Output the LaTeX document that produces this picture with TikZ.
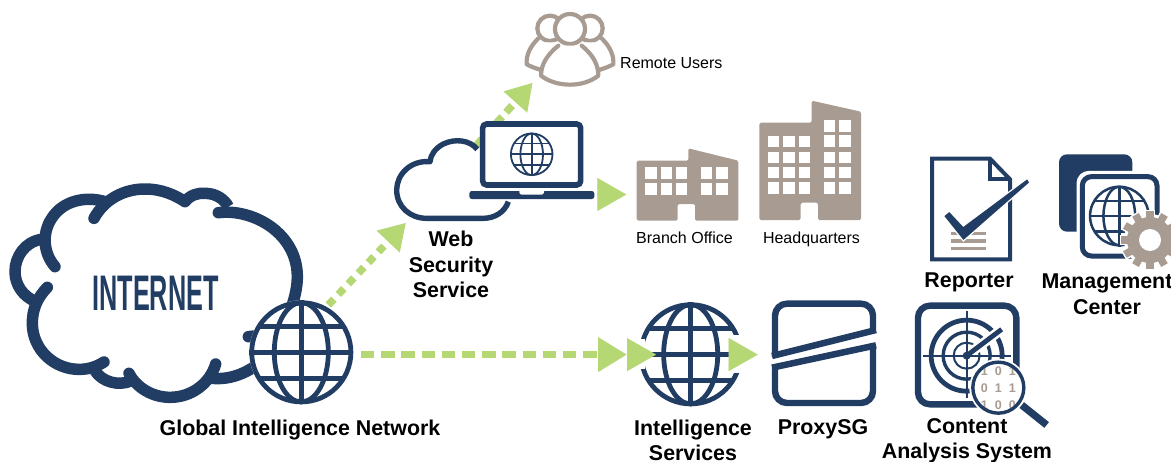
\documentclass[tikz,border=0pt]{standalone}
\usepackage{fontspec}
\setmainfont{Liberation Sans}
\usetikzlibrary{arrows.meta}
\definecolor{navy}{HTML}{223D63}
\definecolor{leaf}{HTML}{B5D774}
\definecolor{taupe}{HTML}{A89C92}
\tikzset{
  zoomone/.style={shift={(0,160)},x=0.33333pt,y=-0.33333pt},
  zoomtwo/.style={shift={(380,0)},x=0.33333pt,y=-0.33333pt},
  zoomthree/.style={shift={(600,280)},x=0.33333pt,y=-0.33333pt},
  zoomfour/.style={shift={(910,140)},x=0.33333pt,y=-0.33333pt},
  zoomusers/.style={shift={(515,5)},x=0.33333pt,y=-0.33333pt},
  zoomradar/.style={shift={(910,300)},x=0.33333pt,y=-0.33333pt},
  cloudline/.style={draw=navy,line width=11.5pt,line cap=round,line join=round},
  label/.style={font=\bfseries\fontsize{21.4}{25.5}\selectfont,align=center,text=black,inner sep=0pt},
  smalllabel/.style={font=\fontsize{16}{17}\selectfont,text=black,inner sep=0pt},
  dashlink/.style={draw=leaf,line width=7.5pt,-{Triangle[length=26pt,width=30pt,fill=leaf]}},
  tipfill/.style={draw=leaf,line width=0.1pt,-{Triangle[length=29pt,width=33pt,fill=leaf]}},
  mask/.style={fill=white,draw=none},
}
\newcommand{\globeicon}[5]{% name,x,y,R,lw
  \coordinate (#1) at (#2,#3);
  \fill[white] (#1) circle[radius=#4pt];
  \begin{scope}[draw=navy,line width=#5pt]
    \draw (#1) circle[radius=#4pt-0.5*#5pt];
    \draw (#1) ellipse[x radius=0.52*#4pt,y radius=#4pt-0.5*#5pt];
    \draw ([yshift=-#4pt]#1) -- ([yshift=#4pt]#1);
    \draw ([xshift=-#4pt]#1) -- ([xshift=#4pt]#1);
    \draw ([xshift=-0.84*#4pt,yshift=0.5*#4pt]#1) -- ([xshift=0.84*#4pt,yshift=0.5*#4pt]#1);
    \draw ([xshift=-0.84*#4pt,yshift=-0.5*#4pt]#1) -- ([xshift=0.84*#4pt,yshift=-0.5*#4pt]#1);
  \end{scope}
}
\begin{document}
\begin{tikzpicture}[x=1pt,y=-1pt]
\useasboundingbox (0,0) rectangle (1171,461);
\fill[white] (0,0) rectangle (1171,461);

% link end points
\coordinate (ginOut) at (328.3,305);
\coordinate (wssIn) at (406,222.7);
\coordinate (ginRight) at (361,354.6);
\coordinate (isIn) at (627,354.6);
\coordinate (isTip) at (656,354.6);
\coordinate (isOut) at (728.7,354.6);
\coordinate (sgTip) at (757.7,354.6);
\coordinate (wssUp) at (476.7,145);
\coordinate (usersIn) at (532.7,82.7);
\coordinate (lapOut) at (597.3,194.5);
\coordinate (branchIn) at (626.3,194.5);

% dashed connectors
\draw[dashlink,dash pattern=on 8pt off 6.6pt,dash phase=0pt] (ginOut) -- (wssIn);
\draw[dashlink,dash pattern=on 9pt off 6pt,dash phase=1pt] (wssUp) -- (usersIn);

% INTERNET cloud
\begin{scope}[zoomone]
  \draw[cloudline] (282,175) .. controls (315,115) and (375,87) .. (435,87) .. controls (485,87) and (525,105) .. (555,125);
  \draw[cloudline,line cap=butt] (555,125) .. controls (570,105) and (595,98) .. (615,100) .. controls (650,100) and (675,120) .. (685,140);
  \draw[cloudline] (655,158) .. controls (760,145) and (892,220) .. (892,350) .. controls (892,380) and (885,410) .. (875,440);
  \draw[cloudline] (165,320) .. controls (130,280) and (125,220) .. (155,175) .. controls (190,120) and (260,108) .. (315,125);
  \draw[cloudline,line cap=butt] (125,238) .. controls (75,245) and (45,290) .. (45,335) .. controls (45,375) and (70,410) .. (108,425);
  \draw[cloudline] (142,382) .. controls (110,415) and (97,450) .. (97,490) .. controls (97,570) and (165,630) .. (240,628) .. controls (265,628) and (290,620) .. (312,606);
  \draw[cloudline,line cap=butt] (285,632) .. controls (305,665) and (355,680) .. (395,662);
  \draw[cloudline] (387,640) .. controls (410,685) and (460,712) .. (510,712) .. controls (575,712) and (630,670) .. (647,612);
  \draw[cloudline,line cap=butt] (635,655) .. controls (680,660) and (730,645) .. (770,615);
  \draw[cloudline] (745,530) -- (790,525);
\end{scope}
\node[inner sep=0pt,font=\bfseries\fontsize{50}{50}\selectfont,text=navy] (internet) at (155.5,293.5) {\scalebox{0.505}[1]{INTERNET}};
\globeicon{gin}{301.3}{352.3}{52}{4.8}
\node[label,anchor=base] (ginLabel) at (300,435) {Global Intelligence Network};

\draw[dashlink,dash pattern=on 13.3pt off 6.9pt,-{Triangle[length=29pt,width=33pt,fill=leaf]}] (ginRight) -- (isIn);

% Web Security Service cloud + laptop
\begin{scope}[zoomtwo]
  \draw[navy,line width=5.4pt,line cap=butt,line join=round] (292,448) .. controls (270,420) and (225,415) .. (190,432) .. controls (165,445) and (152,465) .. (150,485) .. controls (90,480) and (50,525) .. (50,570) .. controls (50,620) and (90,655) .. (140,655) -- (310,655) .. controls (345,655) and (375,635) .. (385,605);
  \draw[navy,fill=white,line width=5.6pt,rounded corners=4pt] (308,372) rectangle (602,555);
  \fill[navy,rounded corners=2.5pt] (268,573) rectangle (643,597);
  \fill[white,rounded corners=2.5pt] (418,566) rectangle (492,584);
\end{scope}
\globeicon{lapGlobe}{531.7}{154.3}{21.7}{1.8}
\node[label] (wssLabel) at (451,264.5) {Web\\Security\\Service};
\draw[tipfill] (lapOut) -- (branchIn);

% Remote users
\begin{scope}[zoomusers,taupe,line width=4.2pt,line join=round,line cap=round]
  \draw (105,70) circle[radius=12.7pt];
  \draw (225,70) circle[radius=12.7pt];
  \fill[white] (70,112) -- (260,112) -- (250,195) -- (78,195) -- cycle;
  \draw (70,100) .. controls (45,125) and (33,150) .. (35,178) .. controls (48,185) and (62,190) .. (78,195);
  \draw (260,100) .. controls (285,125) and (297,150) .. (295,178) .. controls (282,185) and (268,190) .. (252,195);
  \draw[fill=white] (165,72) circle[radius=15pt];
  \draw[fill=white] (130,122) .. controls (95,150) and (78,180) .. (78,212) .. controls (125,248) and (205,248) .. (250,212) .. controls (250,180) and (235,150) .. (200,122);
\end{scope}
\node[smalllabel,anchor=base west] (usersLabel) at (620,68.5) {Remote Users};

% Buildings
\begin{scope}[zoomtwo]
  \fill[taupe,rounded corners=1.5pt] (770,662) -- (770,482) -- (925,482) -- (925,445) -- (1075,482) -- (1075,662) -- (945,662) -- (945,612) -- (893,612) -- (893,662) -- cycle;
  \foreach \a/\b in {795/830,842/876,888/922,963/997,1008/1043}
    \foreach \c/\d in {502/538,548/585}
      \fill[white] (\a,\c) rectangle (\b,\d);
  \fill[taupe,rounded corners=1.5pt] (1138,660) -- (1138,368) -- (1295,368) -- (1295,302) -- (1443,335) -- (1443,660) -- (1314,660) -- (1314,608) -- (1262,608) -- (1262,660) -- cycle;
  \foreach \a/\b in {1165/1197,1210/1244,1256/1290}
    \foreach \c/\d in {408/442,455/489,500/535,547/582}
      \fill[white] (\a,\c) rectangle (\b,\d);
  \foreach \a/\b in {1332/1365,1378/1412}
    \foreach \c/\d in {360/395,405/440,455/489,500/535,547/582}
      \fill[white] (\a,\c) rectangle (\b,\d);
\end{scope}
\node[smalllabel,anchor=base] (branchLabel) at (684.5,243.5) {Branch Office};
\node[smalllabel,anchor=base] (hqLabel) at (811.5,243.5) {Headquarters};

% Intelligence Services globe
\globeicon{isGlobe}{690.7}{354.3}{52}{4.8}
\begin{scope}[zoomthree]
  \fill[mask] (80,178) rectangle (135,268);
  \fill[mask] (388,165) rectangle (437,280);
\end{scope}
\draw[tipfill] (isIn) -- (isTip);
\draw[tipfill] (isOut) -- (sgTip);
\node[label] (isLabel) at (693,440.5) {Intelligence\\Services};

% ProxySG
\begin{scope}[zoomthree]
  \draw[navy,line width=6.4pt,rounded corners=12pt] (525,71) rectangle (819,369);
  \fill[mask] (510,232) -- (836,148) -- (836,198) -- (510,267) -- cycle;
  \draw[navy,line width=6.5pt] (516,228) -- (828,150);
  \draw[navy,line width=6.5pt] (516,263) -- (828,196);
\end{scope}
\node[label,anchor=base] (sgLabel) at (823,434) {ProxySG};

% Content Analysis System
\begin{scope}[zoomthree]
  \draw[navy,line width=6.4pt,rounded corners=12pt] (954,77) rectangle (1249,373);
\end{scope}
\begin{scope}[zoomradar]
  \coordinate (radar) at (170,167);
  \draw[navy,line width=2pt] (radar) circle[radius=13pt];
  \draw[navy,line width=3.4pt] (radar) circle[radius=23.5pt];
  \draw[navy,line width=4.8pt] (radar) circle[radius=35.5pt];
  \draw[white,line width=10pt] (radar) -- (283,82);
  \draw[navy,line width=1.9pt] (170,32) -- (170,295);
  \draw[navy,line width=1.9pt] (40,167) -- (303,167);
  \draw[navy,line width=4.8pt] (radar) -- (275,88);
  \fill[navy] (radar) circle[radius=4pt];
  \coordinate (lens) at (265,263);
  \draw[navy,line width=7.3pt] (335,315) -- (410,375);
  \fill[white] (lens) circle[radius=29pt];
  \begin{scope}
    \clip (lens) circle[radius=25pt];
    \foreach \n/\xx/\yy/\t in {da/223/215/1,db/265/215/0,dc/307/215/1,dd/223/266/0,de/265/266/1,df/307/266/1,dg/223/316/1,dh/265/316/0,di/307/316/0}
      \node[inner sep=0pt,text=taupe,font=\bfseries\fontsize{12.5}{13}\selectfont] (\n) at (\xx,\yy) {\t};
  \end{scope}
  \draw[navy,line width=3.4pt] (lens) circle[radius=25.5pt];
\end{scope}
\node[label] (casLabel) at (967,440.5) {Content\\Analysis System};

% Reporter
\begin{scope}[zoomfour]
  \draw[navy,line width=4pt,line join=miter] (66,56) -- (240,56) -- (300,118) -- (300,358) -- (66,358) -- cycle;
  \draw[navy,line width=4pt] (240,56) -- (240,118) -- (300,118);
  \foreach \yy in {275,298,320}
    \fill[taupe] (123,\yy) rectangle (228,\yy+10);
  \fill[navy,draw=white,line width=1.2pt] (100,228) -- (118,213) -- (160,258) -- (352,115) -- (360,128) -- (160,303) -- cycle;
\end{scope}
\node[label,anchor=base] (repLabel) at (969,287) {Reporter};

% Management Center
\begin{scope}[zoomfour]
  \fill[navy,rounded corners=8pt] (447,43) rectangle (667,275);
  \draw[white,fill=white,line width=3pt,rounded corners=11pt] (504,97) rectangle (754,361);
  \draw[navy,fill=white,line width=5pt,rounded corners=9pt] (517,110) rectangle (741,348);
\end{scope}
\globeicon{mcGlobe}{1119.3}{216}{30.5}{2.5}
\begin{scope}[zoomfour]
  \coordinate (gear) at (720,300);
  \fill[white] (gear) circle[radius=26pt];
  \foreach \ang in {0,30,...,330}
    \draw[white,line width=10.5pt] (gear) -- ([shift={(\ang:30.5pt)}]gear);
  \foreach \ang in {0,30,...,330}
    \draw[taupe,line width=7.5pt] (gear) -- ([shift={(\ang:29pt)}]gear);
  \fill[taupe] (gear) circle[radius=23pt];
  \fill[white] (gear) circle[radius=11pt];
\end{scope}
\node[label] (mcLabel) at (1107,294) {Management\\Center};
\end{tikzpicture}
\end{document}
